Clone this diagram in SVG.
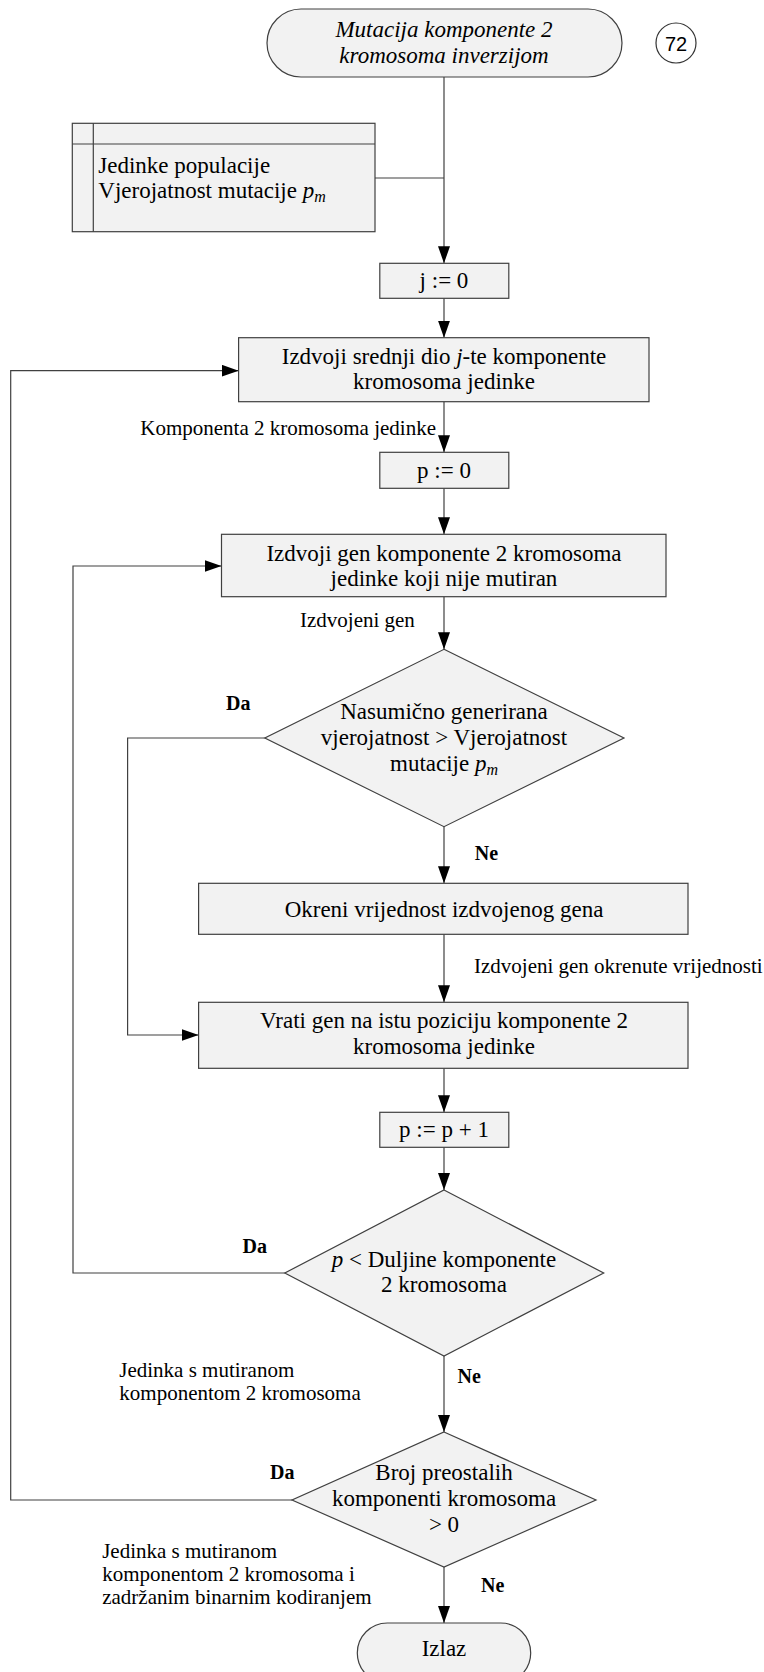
<svg xmlns="http://www.w3.org/2000/svg" width="764" height="1672" viewBox="0 0 764 1672">
<defs>
<marker id="arr" markerUnits="userSpaceOnUse" markerWidth="18" markerHeight="13" refX="17" refY="6" orient="auto"><path d="M0,0 L17,6 L0,12 z" fill="#000"/></marker>
<style>
.s{fill:#f2f2f2;stroke:#404040;stroke-width:1.2}
.c{fill:none;stroke:#404040;stroke-width:1.2}
.ca{fill:none;stroke:#404040;stroke-width:1.2;marker-end:url(#arr)}
.t{font-family:"Liberation Serif","Times New Roman",serif;font-size:23px;fill:#000;text-anchor:middle}
.ts{font-family:"Liberation Serif","Times New Roman",serif;font-size:23px;fill:#000}
.l{font-family:"Liberation Serif","Times New Roman",serif;font-size:21px;fill:#000}
.b{font-family:"Liberation Serif","Times New Roman",serif;font-size:20px;font-weight:bold;fill:#000}
.i{font-style:italic}
</style>
</defs>
<rect width="764" height="1672" fill="#fff"/>
<g id="connectors">
<path class="ca" d="M444,77 V263.3"/>
<path class="c" d="M375,178 H444"/>
<path class="ca" d="M444,298.3 V337.7"/>
<path class="ca" d="M444,401.7 V452.3"/>
<path class="ca" d="M444,488.3 V534.3"/>
<path class="ca" d="M444,596.7 V649.3"/>
<path class="ca" d="M444,826.7 V883.3"/>
<path class="ca" d="M444,934.3 V1002.3"/>
<path class="ca" d="M444,1068.3 V1112.3"/>
<path class="ca" d="M444,1147.3 V1190"/>
<path class="ca" d="M444,1356 V1432"/>
<path class="ca" d="M444,1567 V1623"/>
<path class="ca" d="M264.8,738 H127.6 V1035 H198.6"/>
<path class="ca" d="M284.8,1273 H73 V566 H221.5"/>
<path class="ca" d="M292,1500 H10.7 V370.7 H238.6"/>
</g>
<g id="labels">
<text class="l" x="436" y="435" text-anchor="end">Komponenta 2 kromosoma jedinke</text>
<text class="l" x="300" y="626.7">Izdvojeni gen</text>
<text class="l" x="474" y="972.7">Izdvojeni gen okrenute vrijednosti</text>
<text class="l" x="119.3" y="1376.7">Jedinka s mutiranom</text>
<text class="l" x="119.3" y="1400">komponentom 2 kromosoma</text>
<text class="l" x="102.2" y="1558.3">Jedinka s mutiranom</text>
<text class="l" x="102.2" y="1581.3">komponentom 2 kromosoma i</text>
<text class="l" x="102.2" y="1604.3">zadržanim binarnim kodiranjem</text>
<text class="b" x="226" y="710">Da</text>
<text class="b" x="474.7" y="860">Ne</text>
<text class="b" x="242.5" y="1252.7">Da</text>
<text class="b" x="457.6" y="1382.7">Ne</text>
<text class="b" x="270" y="1479.3">Da</text>
<text class="b" x="481" y="1591.7">Ne</text>
</g>
<g id="start">
<rect class="s" x="267" y="9" width="355" height="68" rx="34"/>
<text class="t i" x="444" y="36.5">Mutacija komponente 2</text>
<text class="t i" x="444" y="62.5">kromosoma inverzijom</text>
</g>
<g id="page-ref">
<circle cx="676" cy="43" r="20" fill="#fff" stroke="#333" stroke-width="1.2"/>
<text x="676" y="50.5" text-anchor="middle" font-family="Liberation Sans, Arial, sans-serif" font-size="20">72</text>
</g>
<g id="input-data">
<rect class="s" x="72.3" y="123.3" width="302.7" height="108.4"/>
<path class="c" d="M93.3,123.3 V231.7 M72.3,144 H375"/>
<text class="ts" x="98.3" y="172.7">Jedinke populacije</text>
<text class="ts" x="98.3" y="198.3">Vjerojatnost mutacije <tspan class="i">p</tspan><tspan class="i" font-size="16" dy="4">m</tspan></text>
</g>
<g id="j-init">
<rect class="s" x="379.8" y="263.3" width="129" height="35"/>
<text class="t" x="444" y="288">j := 0</text>
</g>
<g id="extract-component">
<rect class="s" x="238.6" y="337.7" width="410.4" height="64"/>
<text class="t" x="444" y="364">Izdvoji srednji dio <tspan class="i">j</tspan>-te komponente</text>
<text class="t" x="444" y="389">kromosoma jedinke</text>
</g>
<g id="p-init">
<rect class="s" x="379.8" y="452.3" width="129" height="36"/>
<text class="t" x="444" y="477.5">p := 0</text>
</g>
<g id="extract-gene">
<rect class="s" x="221.5" y="534.3" width="444.5" height="62.4"/>
<text class="t" x="444" y="561">Izdvoji gen komponente 2 kromosoma</text>
<text class="t" x="444" y="586">jedinke koji nije mutiran</text>
</g>
<g id="decision-probability">
<polygon class="s" points="444,649.3 624,738 444,826.7 264.8,738"/>
<text class="t" x="444" y="719">Nasumično generirana</text>
<text class="t" x="444" y="745">vjerojatnost &gt; Vjerojatnost</text>
<text class="t" x="444" y="771">mutacije <tspan class="i">p</tspan><tspan class="i" font-size="16" dy="4">m</tspan></text>
</g>
<g id="invert-gene">
<rect class="s" x="198.6" y="883.3" width="489.4" height="51"/>
<text class="t" x="444" y="916.7">Okreni vrijednost izdvojenog gena</text>
</g>
<g id="return-gene">
<rect class="s" x="198.6" y="1002.3" width="489.4" height="66"/>
<text class="t" x="444" y="1028.3">Vrati gen na istu poziciju komponente 2</text>
<text class="t" x="444" y="1054.3">kromosoma jedinke</text>
</g>
<g id="p-increment">
<rect class="s" x="379.8" y="1112.3" width="129" height="35"/>
<text class="t" x="444" y="1137">p := p + 1</text>
</g>
<g id="decision-length">
<polygon class="s" points="444,1190 603.7,1273 444,1356 284.8,1273"/>
<text class="t" x="444" y="1266.7"><tspan class="i">p</tspan> &lt; Duljine komponente</text>
<text class="t" x="444" y="1291.7">2 kromosoma</text>
</g>
<g id="decision-remaining">
<polygon class="s" points="444,1432 596,1500 444,1567 292,1500"/>
<text class="t" x="444" y="1480">Broj preostalih</text>
<text class="t" x="444" y="1506">komponenti kromosoma</text>
<text class="t" x="444" y="1531.7">&gt; 0</text>
</g>
<g id="end">
<rect class="s" x="357.3" y="1623" width="173.4" height="60" rx="30"/>
<text class="t" x="444" y="1656">Izlaz</text>
</g>
</svg>
